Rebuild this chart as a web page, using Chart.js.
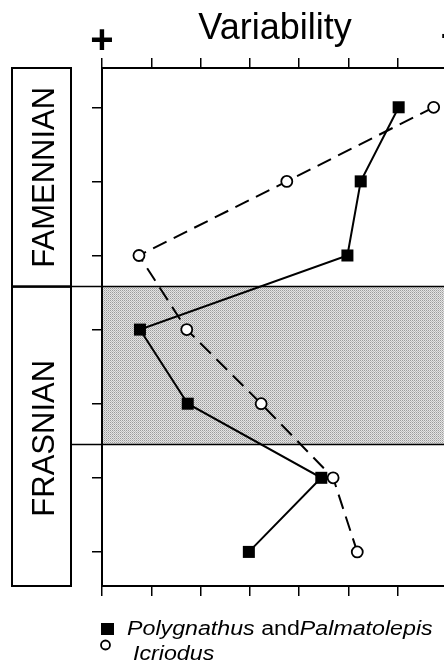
<!DOCTYPE html>
<html>
<head>
<meta charset="utf-8">
<script src="https://cdn.jsdelivr.net/npm/chart.js@4.4.1/dist/chart.umd.min.js"></script>
<style>
  html, body { margin: 0; padding: 0; background: #fff; overflow: hidden; }
  #wrap { width: 444px; height: 663px; }
  canvas { display: block; }
</style>
</head>
<body>
<div id="wrap"><canvas id="chart" width="444" height="663"></canvas></div>
<script>
// levels top (1) to bottom (7)
const levels = [1, 2, 3, 4, 5, 6, 7];
const polygnathus = [6.02, 5.25, 4.98, 0.77, 1.74, 4.45, 2.98];
const icriodus = [6.73, 3.75, 0.75, 1.72, 3.23, 4.69, 5.18];
const xTicks = [0, 1, 2, 3, 4, 5, 6];
const stages = ['FAMENNIAN', 'FRASNIAN'];
const stageBoundary = 3.42;   // Famennian/Frasnian line
const bandRange = [3.42, 5.55]; // shaded interval

const FONT = '"Liberation Sans", Arial, Helvetica, sans-serif';

function toPoints(xs) {
  return xs.map((x, i) => ({ x, y: levels[i] }));
}

// small halftone-like tile for the shaded band
function bandPattern(ctx) {
  const c = document.createElement('canvas');
  c.width = 2; c.height = 2;
  const p = c.getContext('2d');
  p.fillStyle = '#e4e4e4'; p.fillRect(0, 0, 2, 2);
  p.fillStyle = '#9c9c9c'; p.fillRect(0, 0, 1, 1);
  p.fillStyle = '#bcbcbc'; p.fillRect(1, 1, 1, 1);
  return ctx.createPattern(c, 'repeat');
}

const decor = {
  id: 'decor',
  beforeDraw(chart) {
    const { ctx, chartArea: a, scales } = chart;
    const y = scales.y;
    const yTop = y.getPixelForValue(bandRange[0]);
    const yBot = y.getPixelForValue(bandRange[1]);
    const yStage = y.getPixelForValue(stageBoundary);
    ctx.save();
    ctx.fillStyle = bandPattern(ctx);
    ctx.fillRect(a.left, yTop, a.right - a.left, yBot - yTop);
    // stage boxes
    ctx.strokeStyle = '#000';
    ctx.lineWidth = 2;
    ctx.strokeRect(12, a.top, 59, yStage - a.top);
    ctx.strokeRect(12, yStage, 59, a.bottom - yStage);
    // horizontal lines
    ctx.lineWidth = 1.5;
    ctx.beginPath();
    ctx.moveTo(12, yStage); ctx.lineTo(a.right, yStage);
    ctx.moveTo(71, yBot); ctx.lineTo(a.right, yBot);
    ctx.stroke();
    ctx.restore();
  },
  afterDraw(chart) {
    const { ctx, chartArea: a, scales } = chart;
    const y = scales.y;
    const yStage = y.getPixelForValue(stageBoundary);
    ctx.save();
    ctx.fillStyle = '#000';
    // title
    ctx.font = '36px ' + FONT;
    ctx.textAlign = 'center';
    ctx.textBaseline = 'alphabetic';
    ctx.fillText('Variability', 275, 39);
    ctx.font = 'bold 40px ' + FONT;
    ctx.fillText('+', 102, 53);
    ctx.textAlign = 'left';
    ctx.fillText('\u2013', 441, 47);

    // stage names, rotated
    ctx.font = '31px ' + FONT;
    ctx.textAlign = 'center';
    [[stages[0], (a.top + yStage) / 2], [stages[1], (yStage + a.bottom) / 2 + 2]].forEach(([t, cy]) => {
      ctx.save();
      ctx.translate(53.5, cy);
      ctx.rotate(-Math.PI / 2);
      ctx.fillText(t, 0, 0);
      ctx.restore();
    });

    // legend
    ctx.fillRect(101, 623, 13, 12);
    ctx.beginPath();
    ctx.arc(105.5, 645, 4.5, 0, Math.PI * 2);
    ctx.lineWidth = 1.8;
    ctx.strokeStyle = '#000';
    ctx.stroke();

    const stretch = 1.16;
    const line = (parts, x0, base) => {
      ctx.save();
      ctx.translate(x0, base);
      ctx.scale(stretch, 1);
      let x = 0;
      parts.forEach(([style, t]) => {
        ctx.font = (style === 'italic' ? 'italic ' : '') + '20px ' + FONT;
        ctx.fillText(t, x, 0);
        x += ctx.measureText(t).width;
      });
      ctx.restore();
    };
    ctx.textAlign = 'left';
    line([['italic', 'Polygnathus'], ['normal', ' and'], ['italic', 'Palmatolepis']], 127, 635);
    line([['italic', 'Icriodus']], 133, 660);
    ctx.restore();
  }
};

const tickGrid = {
  drawOnChartArea: false,
  drawTicks: true,
  tickLength: 10,
  color: '#000',
  lineWidth: 1.5
};

new Chart(document.getElementById('chart'), {
  type: 'scatter',
  data: {
    datasets: [
      {
        label: 'Polygnathus and Palmatolepis',
        data: toPoints(polygnathus),
        showLine: true,
        borderColor: '#000',
        borderWidth: 2,
        backgroundColor: '#000',
        pointStyle: 'rect',
        pointRadius: 8.5,
        pointBorderWidth: 0,
        pointBackgroundColor: '#000',
        tension: 0
      },
      {
        label: 'Icriodus',
        data: toPoints(icriodus),
        showLine: true,
        borderColor: '#000',
        borderWidth: 2,
        borderDash: [15, 8],
        pointStyle: 'circle',
        pointRadius: 5.5,
        pointBorderWidth: 1.8,
        pointBorderColor: '#000',
        pointBackgroundColor: '#fff',
        tension: 0
      }
    ]
  },
  options: {
    responsive: false,
    animation: false,
    layout: { padding: 0, autoPadding: false },
    plugins: { legend: { display: false }, tooltip: { enabled: false } },
    scales: {
      x: {
        type: 'linear',
        position: 'top',
        min: 0,
        max: 6.94,
        grid: tickGrid,
        border: { display: true, color: '#000', width: 2 },
        ticks: { display: false },
        afterBuildTicks: (s) => { s.ticks = xTicks.map((v) => ({ value: v })); },
        afterFit: (s) => { s.height = 68; }
      },
      x2: {
        type: 'linear',
        position: 'bottom',
        min: 0,
        max: 6.94,
        grid: tickGrid,
        border: { display: true, color: '#000', width: 2 },
        ticks: { display: false },
        afterBuildTicks: (s) => { s.ticks = xTicks.map((v) => ({ value: v })); },
        afterFit: (s) => { s.height = 77; }
      },
      y: {
        type: 'linear',
        position: 'left',
        reverse: true,
        min: 0.47,
        max: 7.46,
        grid: tickGrid,
        border: { display: true, color: '#000', width: 2 },
        ticks: { display: false },
        afterBuildTicks: (s) => { s.ticks = levels.map((v) => ({ value: v })); },
        afterFit: (s) => { s.width = 102; }
      }
    }
  },
  plugins: [decor]
});
</script>
</body>
</html>
